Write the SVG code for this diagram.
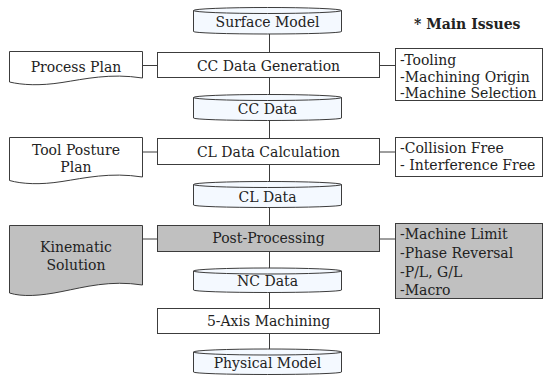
<svg xmlns="http://www.w3.org/2000/svg" width="544" height="376" viewBox="0 0 544 376">
<style>
.s{stroke:#3c3c3c;stroke-width:1;}
.w{fill:#ffffff;}
.g{fill:#c0c0c0;}
.c{fill:#f4f9ff;}
.t{font-family:"DejaVu Serif","Liberation Serif",serif;font-size:14px;fill:#222;}
.m{text-anchor:middle;}
.b{font-weight:bold;}
.ln{stroke:#3c3c3c;stroke-width:1;fill:none;}
</style>
<rect width="544" height="376" fill="#ffffff"/>
<g id="connectors">
<line class="ln" x1="269.5" y1="34" x2="269.5" y2="52"/>
<line class="ln" x1="269.5" y1="77" x2="269.5" y2="95"/>
<line class="ln" x1="269.5" y1="120" x2="269.5" y2="138"/>
<line class="ln" x1="269.5" y1="164" x2="269.5" y2="182"/>
<line class="ln" x1="269.5" y1="207" x2="269.5" y2="225"/>
<line class="ln" x1="269.5" y1="251" x2="269.5" y2="268"/>
<line class="ln" x1="269.5" y1="292" x2="269.5" y2="308"/>
<line class="ln" x1="269.5" y1="333" x2="269.5" y2="349"/>
<line class="ln" x1="143" y1="65.5" x2="157.5" y2="65.5"/>
<line class="ln" x1="379.5" y1="65.5" x2="395.5" y2="65.5"/>
<line class="ln" x1="143" y1="152" x2="157.5" y2="152"/>
<line class="ln" x1="379.5" y1="152" x2="395.5" y2="152"/>
<line class="ln" x1="143" y1="239" x2="157.5" y2="239"/>
<line class="ln" x1="379.5" y1="239" x2="395.5" y2="239"/>
</g>
<g id="surface-model">
<path class="s c" d="M193.5,10.5 A74,3 0 0 1 341.5,10.5 V31.5 A74,2.5 0 0 1 193.5,31.5 Z"/>
<path class="ln" d="M193.5,10.5 A74,3 0 0 0 341.5,10.5"/>
<text class="t m" x="267.5" y="27">Surface Model</text>
</g>
<g id="main-issues-title">
<text class="t b" x="414" y="29">* Main Issues</text>
</g>
<g id="process-plan">
<path class="s w" d="M9.5,51.5 H142.5 V78 C110,73 85,79 62,82.5 C40,86 22,85 9.5,82 Z"/>
<text class="t m" x="76" y="71.5">Process Plan</text>
</g>
<g id="cc-data-generation">
<rect class="s w" x="157.5" y="52.5" width="222" height="25"/>
<text class="t m" x="268.5" y="70.5">CC Data Generation</text>
</g>
<g id="issues-cc">
<rect class="s w" x="395.5" y="48.5" width="147" height="52"/>
<text class="t" x="400" y="65">-Tooling</text>
<text class="t" x="400" y="82">-Machining Origin</text>
<text class="t" x="400" y="97.5">-Machine Selection</text>
</g>
<g id="cc-data">
<path class="s c" d="M193.5,97.5 A74,3 0 0 1 341.5,97.5 V118 A74,2.5 0 0 1 193.5,118 Z"/>
<path class="ln" d="M193.5,97.5 A74,3 0 0 0 341.5,97.5"/>
<text class="t m" x="267.5" y="113.5">CC Data</text>
</g>
<g id="tool-posture-plan">
<path class="s w" d="M9.5,137.5 H142.5 V177 C110,172 85,178 62,181.5 C40,185 22,184 9.5,180.5 Z"/>
<text class="t m" x="76" y="155">Tool Posture</text>
<text class="t m" x="76" y="171.5">Plan</text>
</g>
<g id="cl-data-calculation">
<rect class="s w" x="157.5" y="138.5" width="222" height="26"/>
<text class="t m" x="268.5" y="157">CL Data Calculation</text>
</g>
<g id="issues-cl">
<rect class="s w" x="395.5" y="137.5" width="147" height="39"/>
<text class="t" x="400" y="152.5">-Collision Free</text>
<text class="t" x="400" y="170">- Interference Free</text>
</g>
<g id="cl-data">
<path class="s c" d="M193.5,184.5 A74,3 0 0 1 341.5,184.5 V205 A74,2.5 0 0 1 193.5,205 Z"/>
<path class="ln" d="M193.5,184.5 A74,3 0 0 0 341.5,184.5"/>
<text class="t m" x="267.5" y="201.5">CL Data</text>
</g>
<g id="kinematic-solution">
<path class="s g" d="M9.5,225.5 H142.5 V285 C110,280 85,287 62,291.5 C40,296 22,297 9.5,293 Z"/>
<text class="t m" x="76" y="251.5">Kinematic</text>
<text class="t m" x="76" y="270">Solution</text>
</g>
<g id="post-processing">
<rect class="s g" x="157.5" y="225.5" width="222" height="26"/>
<text class="t m" x="268.5" y="243">Post-Processing</text>
</g>
<g id="issues-post">
<rect class="s g" x="395.5" y="223.5" width="147" height="75"/>
<text class="t" x="400" y="238.5">-Machine Limit</text>
<text class="t" x="400" y="257.5">-Phase Reversal</text>
<text class="t" x="400" y="276.5">-P/L, G/L</text>
<text class="t" x="400" y="295">-Macro</text>
</g>
<g id="nc-data">
<path class="s c" d="M193.5,271 A74,3 0 0 1 341.5,271 V290 A74,2.5 0 0 1 193.5,290 Z"/>
<path class="ln" d="M193.5,271 A74,3 0 0 0 341.5,271"/>
<text class="t m" x="267.5" y="286">NC Data</text>
</g>
<g id="five-axis-machining">
<rect class="s w" x="157.5" y="308.5" width="222" height="25"/>
<text class="t m" x="268.5" y="326">5-Axis Machining</text>
</g>
<g id="physical-model">
<path class="s c" d="M193.5,352 A74,3 0 0 1 341.5,352 V372 A74,2.5 0 0 1 193.5,372 Z"/>
<path class="ln" d="M193.5,352 A74,3 0 0 0 341.5,352"/>
<text class="t m" x="267.5" y="368">Physical Model</text>
</g>
</svg>
